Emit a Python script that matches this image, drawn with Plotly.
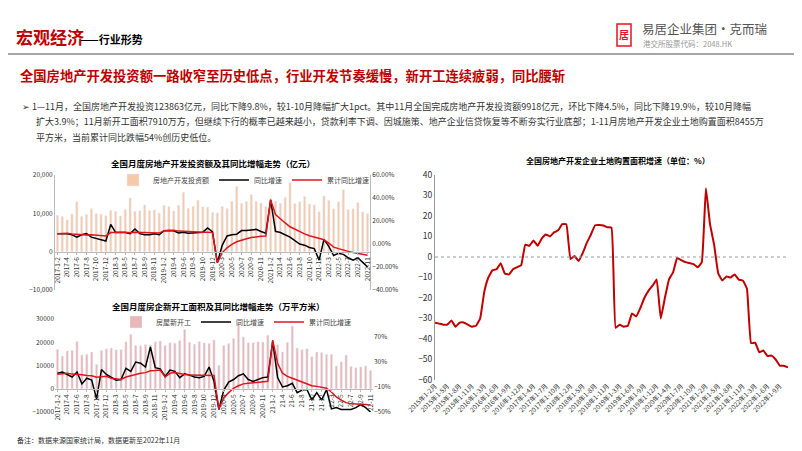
import plotly.graph_objects as go

W, H = 802, 451
def px(x): return x / W
def py(y): return 1 - y / H

# ---------- data: top-left chart ----------
years = [2017, 2018, 2019, 2020, 2021, 2022]
months = ["1-2", "3", "4", "5", "6", "7", "8", "9", "10", "11", "12"]
cats_top = [f"{y}-{m}" for y in years for m in months][:65]
cats_bot = [(f"{y}-{m}" if y < 2021 else f"{str(y)[2:]}-{m}") for y in years for m in months][:65]

invest = [9500, 9200, 8300, 9800, 13000, 9200, 9700, 11200, 9900, 9800, 9400,
          10800, 10500, 9300, 11000, 14000, 10500, 10700, 12200, 10700, 10900, 10100,
          12100, 11800, 10600, 12100, 15500, 11300, 11800, 13400, 11700, 11600, 10200,
          10100, 11800, 11300, 13100, 17000, 12600, 13100, 14900, 13100, 12700, 11800,
          13900, 13200, 12600, 14200, 18000, 12500, 13000, 14400, 12400, 12200, 10400,
          14500, 13400, 11200, 13000, 16200, 11000, 11200, 12800, 10400, 9900]
invest_yoy = [9, 9, 9, 8, 6, 8, 9, 6, 5, 4, 2.6,
              17, 10, 10, 10, 9, 13, 9, 8, 8, 9, 8,
              11.6, 11.8, 11.5, 9.6, 10.1, 9.4, 9.8, 10.5, 10.3, 14, 10.6,
              -16.3, -1.2, 7, 8.1, 8.5, 11.7, 11.8, 12, 12.7, 10.9, 9.3,
              38.3, 11, 10, 8, 6, 3, 0, -1, -3, -4, -14,
              4, -2, -10, -8, -9, -12, -14, -12, -16, -20]
invest_cum = [8.9, 9.1, 9.3, 8.8, 8.5, 7.9, 7.9, 8.1, 7.8, 7.5, 7.0,
              9.9, 10.4, 10.3, 10.2, 9.7, 10.2, 10.1, 9.9, 9.7, 9.7, 9.5,
              11.6, 11.8, 11.9, 11.2, 10.9, 10.6, 10.5, 10.5, 10.3, 10.2, 9.9,
              -16.3, -7.7, -3.3, -0.3, 1.9, 3.4, 4.6, 5.6, 6.3, 6.8, 7.0,
              38.3, 25.6, 21.6, 18.3, 15.0, 12.7, 10.9, 8.8, 7.2, 6.0, 4.4,
              3.7, 0.7, -2.7, -4.0, -5.4, -6.4, -7.4, -8.0, -8.8, -9.8]

# ---------- data: bottom-left chart ----------
starts = [17000, 14000, 16300, 16500, 20300, 14500, 14800, 15800, 10500, 16500, 17200,
          17500, 16800, 16900, 20200, 23400, 18700, 18500, 19000, 18800, 20200, 20500,
          18600, 19800, 19600, 20800, 25500, 20000, 19200, 20300, 19700, 19500, 21000,
          10100, 18600, 19500, 21600, 28000, 22300, 19800, 19800, 20200, 20100, 23000,
          17000, 19000, 15800, 20000, 27000, 17500, 16800, 17200, 13800, 15800, 15600,
          14800, 14800, 9800, 11600, 14500, 9600, 9000, 9400, 9800, 7900]
starts_yoy = [12, 14, 10, 6, 14, -5, 4, 1, -29, 18, 10,
              5, 1, 2, 20, 15, 30, 28, 22, 54, 21, 19,
              7, 17, 15, 5, 11, 9, 6, 5, 7, 22, -1,
              -46, -15, -2, 2, 8, 11, 2, -1, 2, 5, 6,
              63, 5, -10, -8, -4, -19, -15, -14, -31, -19, -31,
              -14, -45, -43, -46, -46, -46, -43, -38, -43, -50]
starts_cum = [10.4, 11.6, 12.1, 10.6, 10.6, 9.5, 8.5, 7.9, 5.6, 6.4, 7.0,
              4, 3, 2, 6, 8, 11, 12, 13, 16, 16.3, 17.2,
              6, 11.9, 13, 11, 10, 9, 9, 8.6, 8.6, 8.6, 8.5,
              -45, -27, -19, -12, -8, -5, -4, -3, -2, -2, -1,
              65, 28, 12, 7, 4, 1, -3, -5, -8, -9, -11,
              -12, -18, -26, -31, -35, -37, -37, -38, -38, -39]

# ---------- data: right chart ----------
land_years = [2015, 2016, 2017, 2018, 2019, 2020, 2021, 2022]
land_months = ["1-2", "1-3", "1-4", "1-5", "1-6", "1-7", "1-8", "1-9", "1-10", "1-11", "1-12"]
land_cats = [f"{y}年{m}月" for y in land_years for m in land_months][:87]
land_yoy = [-32, -32.5, -33, -33, -31, -34, -32, -32, -33, -34, -33.5,
            -30, -17, -10, -6.5, -6, -3, -8, -8.5, -6, -5, -4,
            6, 5.5, 8, 5.5, 9, 11, 10, 12, 13, 16, 16,
            -1, 0.5, -2, 2, 7, 11, 15.5, 15.6, 15.4, 14.5, 14.3,
            -34.5, -33, -34, -33.5, -27.5, -29, -25, -20, -16.5, -14, -11,
            -30, -20, -11, -7.5, -0.5, -1.5, -2.5, -3, -3.5, -5, -2.5,
            33.5, 16, 6, -8, -11.5, -9.5, -10, -8.5, -11, -11.5, -15.5,
            -42, -41.8, -46.5, -45.6, -48.3, -48.1, -50, -53, -53, -53.8]

RED = "#E0141E"
F = "Noto Sans CJK SC"
fig = go.Figure()

fig.add_bar(x=cats_top, y=invest, marker_color="#F6C9AA", width=0.45, name="房地产开发投资额",
            xaxis="x", yaxis="y", legend="legend")
fig.add_scatter(x=cats_top, y=invest_yoy, mode="lines", line=dict(color="black", width=1.5),
                name="同比增速", xaxis="x", yaxis="y2", legend="legend")
fig.add_scatter(x=cats_top, y=invest_cum, mode="lines", line=dict(color=RED, width=1.5),
                name="累计同比增速", xaxis="x", yaxis="y2", legend="legend")
fig.add_bar(x=cats_bot, y=starts, marker_color="#E8B7B7", width=0.45, name="房屋新开工",
            xaxis="x2", yaxis="y3", legend="legend2")
fig.add_scatter(x=cats_bot, y=starts_yoy, mode="lines", line=dict(color="black", width=1.5),
                name="同比增速", xaxis="x2", yaxis="y4", legend="legend2")
fig.add_scatter(x=cats_bot, y=starts_cum, mode="lines", line=dict(color=RED, width=1.5),
                name="累计同比增速", xaxis="x2", yaxis="y4", legend="legend2")
fig.add_scatter(x=land_cats, y=land_yoy, mode="lines",
                line=dict(color="#C00000", width=2, shape="spline", smoothing=0.3),
                showlegend=False, xaxis="x3", yaxis="y5")

tickf = dict(family=F, size=6.5, color="#333")
top_b, top_t = 282, 167
bot_b, bot_t = 404, 311
fig.update_layout(
    width=W, height=H, margin=dict(l=0, r=0, t=0, b=0, autoexpand=False),
    paper_bgcolor="white", plot_bgcolor="white", font=dict(family=F),
    xaxis=dict(domain=[px(47), px(362)], anchor="free", position=py(top_b - (top_b - top_t) / 3),
               type="category", tickvals=cats_top[::2],
               tickangle=-90, tickfont=tickf, showline=True, linecolor="#bbb", ticks="outside",
               ticklen=2, tickcolor="#bbb", showgrid=False, automargin=False),
    yaxis=dict(domain=[py(top_b), py(top_t)], range=[-10000, 20000], dtick=10000, tickformat=",",
               tickfont=tickf, showgrid=False, zeroline=False, showline=True, linecolor="#bbb",
               automargin=False),
    yaxis2=dict(overlaying="y", side="right", anchor="x", range=[-40, 60], dtick=20,
                ticksuffix=".00%", tickfont=tickf, showgrid=False, zeroline=False,
                showline=True, linecolor="#bbb", automargin=False),
    xaxis2=dict(domain=[px(47), px(365)], anchor="free", position=py(bot_b - (bot_b - bot_t) / 4),
                type="category", tickvals=cats_bot[::2],
                tickangle=-90, tickfont=tickf, showline=True, linecolor="#bbb", ticks="outside",
                ticklen=2, tickcolor="#bbb", showgrid=False, automargin=False),
    yaxis3=dict(domain=[py(bot_b), py(bot_t)], range=[-10000, 30000], dtick=10000, tickformat="d",
                tickfont=tickf, showgrid=False, zeroline=False, anchor="x2", automargin=False),
    yaxis4=dict(overlaying="y3", side="right", anchor="x2", range=[-50, 98.8], tick0=-50, dtick=40,
                ticksuffix="%", tickfont=tickf, showgrid=False, zeroline=False, automargin=False),
    xaxis3=dict(domain=[px(427), px(780)], anchor="y5", type="category", tickvals=land_cats[::3],
                tickangle=-45, tickfont=dict(family=F, size=6.5, color="#333"), showline=False,
                showgrid=False, automargin=False),
    yaxis5=dict(domain=[py(372), py(167)], range=[-60, 40], dtick=10,
                tickfont=dict(family=F, size=8.5, color="#333"), showgrid=False, zeroline=False,
                showline=True, linecolor="#999", anchor="x3", automargin=False),
    legend=dict(orientation="h", x=px(105), y=py(172), xanchor="left", yanchor="middle",
                font=dict(family=F, size=7, color="#444"), bgcolor="rgba(0,0,0,0)"),
    legend2=dict(orientation="h", x=px(108), y=py(314), xanchor="left", yanchor="middle",
                 font=dict(family=F, size=7, color="#444"), bgcolor="rgba(0,0,0,0)"),
)

shapes = [
    dict(type="line", xref="paper", yref="y5", x0=px(427), x1=px(780), y0=0, y1=0,
         line=dict(color="#999", width=1, dash="dot")),
    dict(type="line", xref="paper", yref="paper", x0=0, x1=1, y0=py(46), y1=py(46),
         line=dict(color="#888", width=1.5)),
    dict(type="rect", xref="paper", yref="paper", x0=0, x1=1, y0=0, y1=py(443),
         fillcolor="#C00000", line=dict(width=0)),
    dict(type="line", xref="paper", yref="paper", x0=px(798), x1=px(798), y0=py(443), y1=py(48),
         line=dict(color="#aaa", width=1)),
    dict(type="rect", xref="paper", yref="paper", x0=px(609), x1=px(623), y0=py(38), y1=py(16),
         fillcolor="white", line=dict(color=RED, width=1.5)),
]
fig.update_layout(shapes=shapes)

def ann(x, y, text, size, color="#000", xanchor="left", bold=False):
    if bold:
        text = f"<b>{text}</b>"
    return dict(x=px(x), y=py(y), xref="paper", yref="paper", text=text, showarrow=False,
                xanchor=xanchor, yanchor="middle", font=dict(family=F, size=size, color=color))

anns = [
    ann(6, 28, "宏观经济", 17, "#C00000", bold=True),
    ann(70, 31, "——行业形势", 11, "#000", bold=True),
    ann(616, 27, "居", 10, RED, xanchor="center", bold=True),
    ann(632, 21, "易居企业集团·克而瑞", 12.5, "#555"),
    ann(633, 35, "港交所股票代码：2048.HK", 7.5, "#999"),
    ann(10, 68, "全国房地产开发投资额一路收窄至历史低点，行业开发节奏缓慢，新开工连续疲弱，同比腰斩", 13.3, "#C00000", bold=True),
    ann(12, 98, "➢ 1—11月，全国房地产开发投资123863亿元，同比下降9.8%，较1-10月降幅扩大1pct。其中11月全国完成房地产开发投资额9918亿元，环比下降4.5%，同比下降19.9%，较10月降幅", 9, "#333"),
    ann(26, 114, "扩大3.9%；11月新开工面积7910万方，但继续下行的概率已越来越小，贷款利率下调、因城施策、地产企业信贷恢复等不断夯实行业底部；1-11月房地产开发企业土地购置面积8455万", 9, "#333"),
    ann(26, 129, "平方米，当前累计同比跌幅54%创历史低位。", 9, "#333"),
    ann(205, 155, "全国月度房地产开发投资额及其同比增幅走势（亿元）", 8.5, "#000", xanchor="center", bold=True),
    ann(210, 298, "全国月度房企新开工面积及其同比增幅走势（万平方米）", 8.5, "#000", xanchor="center", bold=True),
    ann(610, 152, "全国房地产开发企业土地购置面积增速（单位：%）", 8, "#000", xanchor="center", bold=True),
    ann(7, 432, "备注：数据来源国家统计局，数据更新至2022年11月", 7, "#333"),
]
fig.update_layout(annotations=anns)

fig.write_html("out.html")
